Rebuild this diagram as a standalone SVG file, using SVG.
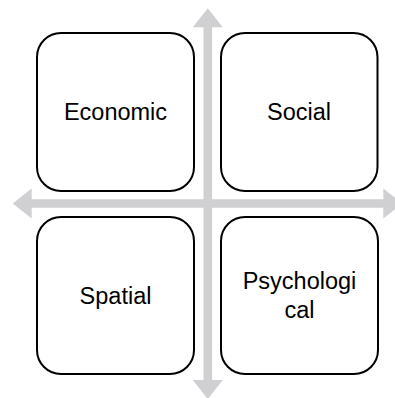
<svg xmlns="http://www.w3.org/2000/svg" width="395" height="398" viewBox="0 0 395 398">
<style>
.box{fill:#fff;stroke:#000;stroke-width:2}
.lbl{font-family:"Liberation Sans",Arial,sans-serif;font-size:23.5px;fill:#000;text-anchor:middle}
.arr{fill:#D0D0D2;stroke:none}
</style>
<rect width="395" height="398" fill="#fff"/>
<g id="connectors">
<polygon class="arr" points="207.8,8.3 222.8,27.3 212.1,27.3 212.1,380 222.8,380 207.8,399 192.8,380 203.5,380 203.5,27.3 192.8,27.3"/>
<polygon class="arr" points="12.7,203.5 31.7,188.5 31.7,199.2 383.3,199.2 383.3,188.5 402.3,203.5 383.3,218.5 383.3,207.8 31.7,207.8 31.7,218.5"/>
</g>
<g id="economic">
<rect class="box" x="37" y="33" width="157" height="158" rx="24"/>
<text class="lbl" x="115.5" y="120">Economic</text>
</g>
<g id="social">
<rect class="box" x="221" y="33" width="156.5" height="158" rx="24"/>
<text class="lbl" x="299" y="120">Social</text>
</g>
<g id="spatial">
<rect class="box" x="37" y="217" width="157" height="157" rx="24"/>
<text class="lbl" x="115.5" y="304">Spatial</text>
</g>
<g id="psychological">
<rect class="box" x="221" y="217" width="157" height="157" rx="24"/>
<text class="lbl" x="299.5" y="289">Psychologi</text>
<text class="lbl" x="299.5" y="317.5">cal</text>
</g>
</svg>
